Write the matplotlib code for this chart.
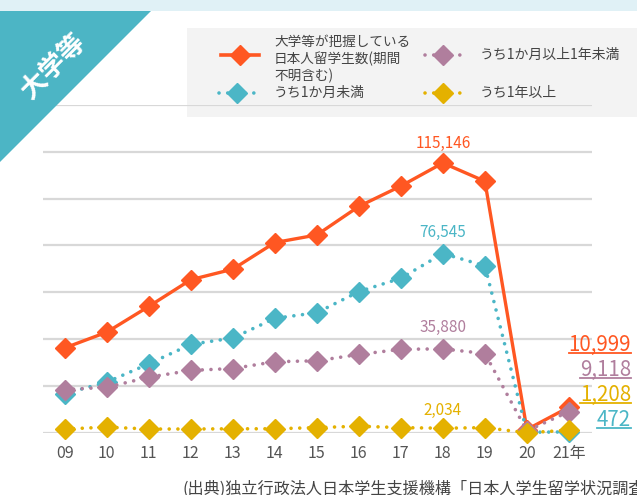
import matplotlib
matplotlib.use("Agg")
import matplotlib.pyplot as plt
from matplotlib.patches import Rectangle, Polygon
from matplotlib.lines import Line2D

plt.rcParams['font.family'] = ['Noto Sans CJK JP', 'DejaVu Sans']

years = list(range(2009, 2022))
tick_labels = ['09', '10', '11', '12', '13', '14', '15', '16', '17', '18', '19', '20', '21年']
total = [36302, 43009, 53991, 65373, 69869, 81219, 84456, 96641, 105301, 115146, 107346, 1487, 10999]
under_1m = [16800, 21700, 29500, 37800, 40500, 48900, 51300, 60300, 66000, 76545, 71300, 300, 472]
m1_to_y1 = [18500, 19500, 23800, 26700, 27500, 30400, 30800, 33500, 35700, 35880, 33900, 900, 9118]
over_1y = [1700, 2500, 1700, 1700, 1800, 1800, 2300, 2900, 2300, 2034, 2300, 100, 1208]

names = ['大学等が把握している\n日本人留学生数(期間\n不明含む)', 'うち1か月以上1年未満',
         'うち1か月未満', 'うち1年以上']
peak_labels = ['115,146', '76,545', '35,880', '2,034']
end_labels = ['10,999', '9,118', '1,208', '472']

C_OR = '#ff5722'
C_TE = '#4bb6c6'
C_PU = '#b07e9d'
C_YE = '#e4b100'

W, H = 637, 495
fig = plt.figure(figsize=(W / 100, H / 100), dpi=100)
fig.patch.set_facecolor('white')

def fx(px):
    return px / W

def fy(py):
    return 1 - py / H

# axes
ax = fig.add_axes([fx(43), fy(433), fx(592) - fx(43), fy(104.7) - fy(433)])
ax.set_facecolor('none')
ax.set_xlim(2008.48, 2021.55)
ax.set_ylim(0, 140000)
for s in ax.spines.values():
    s.set_visible(False)
ax.set_yticks(range(0, 140001, 20000))
ax.yaxis.grid(True, color='#d8d8d8', linewidth=1.6)
ax.set_axisbelow(True)
ax.tick_params(axis='y', left=False, labelleft=False)
ax.set_xticks(years)
ax.set_xticklabels(tick_labels)
ax.tick_params(axis='x', bottom=False, pad=5, labelsize=11.5, labelcolor='#555555')

dot = (0, (0.01, 2.4))
ax.plot(years, total, color=C_OR, lw=2.4, marker='D', ms=10, zorder=3, clip_on=False)
ax.plot(years, under_1m, color=C_TE, lw=2.6, ls=dot, dash_capstyle='round', marker='D', ms=10,
        zorder=4, clip_on=False)
ax.plot(years, m1_to_y1, color=C_PU, lw=2.6, ls=dot, dash_capstyle='round', marker='D', ms=10,
        zorder=5, clip_on=False)
ax.plot(years, over_1y, color=C_YE, lw=2.6, ls=dot, dash_capstyle='round', marker='D', ms=10,
        zorder=6, clip_on=False)

# peak labels at 2018
i18 = years.index(2018)
for series, lab, col, off in [(total, peak_labels[0], C_OR, 20), (under_1m, peak_labels[1], C_TE, 21),
                              (m1_to_y1, peak_labels[2], C_PU, 21), (over_1y, peak_labels[3], C_YE, 18)]:
    ax.annotate(lab, (years[i18], series[i18]), xytext=(0, off), textcoords='offset pixels',
                ha='center', va='center', color=col, fontsize=11)

# end labels with underline
end_specs = [(end_labels[0], C_OR, 345), (end_labels[1], C_PU, 370),
             (end_labels[2], C_YE, 395), (end_labels[3], C_TE, 420)]
texts = []
for lab, col, py in end_specs:
    t = fig.text(fx(631), fy(py), lab, ha='right', va='center', color=col, fontsize=14.8)
    texts.append((t, col, py))
fig.canvas.draw()
r = fig.canvas.get_renderer()
for t, col, py in texts:
    bb = t.get_window_extent(r)
    fig.add_artist(Line2D([bb.x0 / W, bb.x1 / W], [fy(py + 8), fy(py + 8)], color=col, lw=1.3))

# top strip
fig.add_artist(Rectangle((0, fy(11)), 1, 1 - fy(11), transform=fig.transFigure,
                         facecolor='#e0f1f6', edgecolor='none', zorder=10))
# triangle
fig.add_artist(Polygon([[0, fy(11)], [fx(151), fy(11)], [0, fy(162)]], closed=True,
                       transform=fig.transFigure, facecolor='#4cb5c5', edgecolor='none', zorder=10))
fig.text(fx(54), fy(67), '大学等', rotation=45, ha='center', va='center', color='white',
         fontsize=19, fontweight='bold', zorder=11)

# legend box
fig.add_artist(Rectangle((fx(187), fy(117)), 1 - fx(187), fy(28) - fy(117), transform=fig.transFigure,
                         facecolor='#f3f3f3', edgecolor='none', zorder=-1))

def leg_handle(x0, x1, py, col, ls, lw):
    fig.add_artist(Line2D([fx(x0), fx(x1)], [fy(py), fy(py)], color=col, lw=lw, ls=ls,
                          dash_capstyle='round', zorder=12))
    fig.add_artist(Line2D([fx((x0 + x1) / 2)], [fy(py)], color=col, marker='D', ms=10, zorder=13))

leg_handle(221, 259, 55, C_OR, '-', 2.6)
leg_handle(425, 460, 55, C_PU, dot, 2.6)
leg_handle(219, 254, 93, C_TE, dot, 2.6)
leg_handle(425, 460, 93, C_YE, dot, 2.6)
fig.text(fx(274), fy(59), names[0], ha='left', va='center', color='#444444', fontsize=9.8,
         linespacing=1.2, zorder=12)
fig.text(fx(480), fy(55), names[1], ha='left', va='center', color='#444444', fontsize=10, zorder=12)
fig.text(fx(274), fy(93), names[2], ha='left', va='center', color='#444444', fontsize=10, zorder=12)
fig.text(fx(480), fy(93), names[3], ha='left', va='center', color='#444444', fontsize=10, zorder=12)

# footnote
fig.text(fx(183), fy(489), '(出典)独立行政法人日本学生支援機構「日本人学生留学状況調査」', ha='left',
         va='center', color='#444444', fontsize=11.6)

fig.savefig('out.png', dpi=100)
